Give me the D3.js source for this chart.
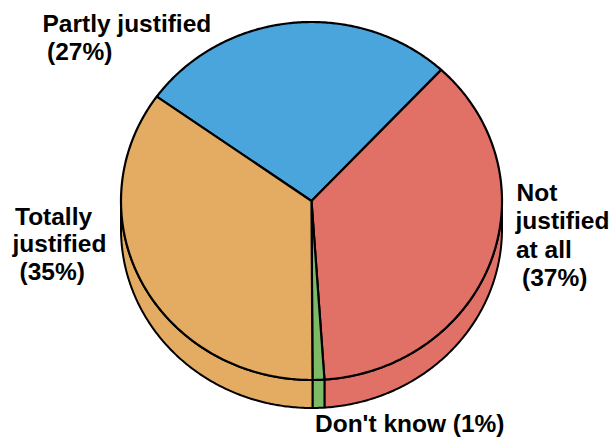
<!DOCTYPE html>
<html>
<head>
<meta charset="utf-8">
<script src="https://cdn.jsdelivr.net/npm/d3@7"></script>
<style>
  html, body { margin: 0; padding: 0; background: #ffffff; }
  svg { display: block; }
  text { font-family: "Liberation Sans", Arial, sans-serif; font-weight: bold; fill: #000; }
</style>
</head>
<body>
<svg id="chart" width="613" height="437"></svg>
<script>
// Survey answers and their shares (%)
const categories = ["Partly justified", "Not justified at all", "Don't know", "Totally justified"];
const shares = [27, 37, 1, 35];
const colors = ["#4aa5dc", "#e17067", "#7dba68", "#e4ab63"];

// Label lines per answer
const labelLines = [
  ["Partly justified", "(27%)"],
  ["Not", "justified", "at all", "(37%)"],
  ["Don't know (1%)"],
  ["Totally", "justified", "(35%)"]
];

const svg = d3.select("#chart");

// Ellipse geometry of the tilted pie
const cx = 311.5, cy = 201, rx = 190.5, ry = 179, depth = 28;
const startDeg = -54.3;

const pie = d3.pie().sort(null).value(d => d)
  .startAngle(startDeg * Math.PI / 180)
  .endAngle(startDeg * Math.PI / 180 + 2 * Math.PI);
const arcs = pie(shares);

const pt = (a, dy = 0) => [cx + rx * Math.sin(a), cy - ry * Math.cos(a) + dy];

function rimPoints(a0, a1, dy) {
  const n = Math.max(2, Math.ceil(Math.abs(a1 - a0) / 0.01));
  return d3.range(n + 1).map(i => pt(a0 + (a1 - a0) * i / n, dy));
}

const line = d3.line();

// Side wall: only the front half (between 90° and 270°) is visible
const frontLo = Math.PI / 2, frontHi = 3 * Math.PI / 2;
const side = svg.append("g");
arcs.forEach((d, i) => {
  // Normalise the arc into [0, 2π) for the front-half test
  let a0 = d.startAngle, a1 = d.endAngle;
  const shift = Math.floor(a0 / (2 * Math.PI)) * 2 * Math.PI;
  a0 -= shift; a1 -= shift;
  [[a0, a1], [a0 - 2 * Math.PI, a1 - 2 * Math.PI], [a0 + 2 * Math.PI, a1 + 2 * Math.PI]].forEach(([s, e]) => {
    const lo = Math.max(s, frontLo), hi = Math.min(e, frontHi);
    if (hi <= lo) return;
    const top = rimPoints(lo, hi, 0);
    const bottom = rimPoints(hi, lo, depth);
    side.append("path")
      .attr("d", line(top.concat(bottom)) + "Z")
      .attr("fill", colors[i])
      .attr("stroke", "#000")
      .attr("stroke-width", 2)
      .attr("stroke-linejoin", "round");
  });
});

// Top face wedges
const topFace = svg.append("g");
arcs.forEach((d, i) => {
  const pts = [[cx, cy]].concat(rimPoints(d.startAngle, d.endAngle, 0));
  topFace.append("path")
    .attr("d", line(pts) + "Z")
    .attr("fill", colors[i])
    .attr("stroke", "#000")
    .attr("stroke-width", 2.2)
    .attr("stroke-linejoin", "round");
});

// Labels
const labelPos = [
  [[42.5, 31.5], [47, 60]],
  [[516.5, 201], [515.5, 229], [516, 258], [522, 286]],
  [[315, 432]],
  [[15, 225], [12.5, 252], [19.5, 280]]
];
const labels = svg.append("g");
labelLines.forEach((lines, i) => {
  lines.forEach((t, j) => {
    const [x, y] = labelPos[i][j];
    labels.append("text")
      .attr("transform", `translate(${x},${y}) scale(1.065,1)`)
      .attr("font-size", 23)
      .text(t);
  });
});
</script>
</body>
</html>
